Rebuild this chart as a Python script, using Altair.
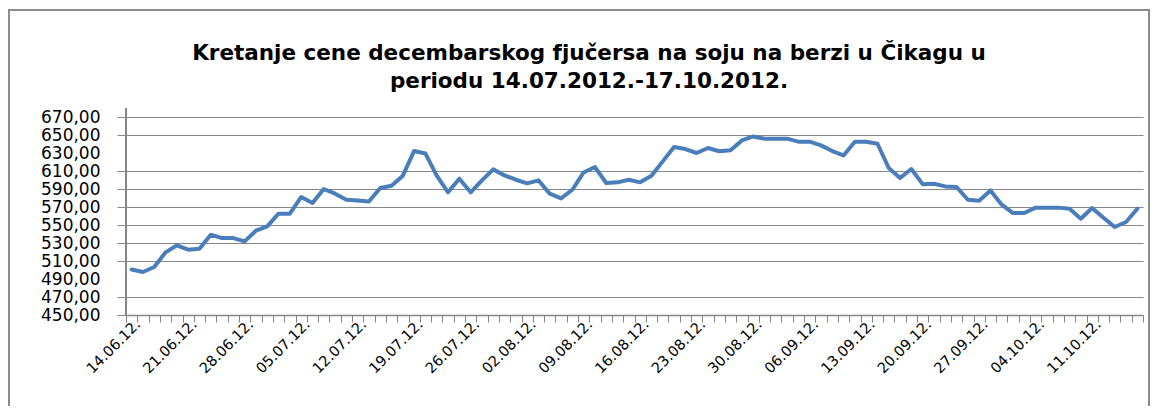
import altair as alt
import pandas as pd

# ---- data ----
title_lines = [
    "Kretanje cene decembarskog fjučersa na soju na berzi u Čikagu u",
    "periodu 14.07.2012.-17.10.2012.",
]
date_labels = [
    "14.06.12.", "21.06.12.", "28.06.12.", "05.07.12.", "12.07.12.", "19.07.12.",
    "26.07.12.", "02.08.12.", "09.08.12.", "16.08.12.", "23.08.12.", "30.08.12.",
    "06.09.12.", "13.09.12.", "20.09.12.", "27.09.12.", "04.10.12.", "11.10.12.",
]
prices = [
    500.5, 497.8, 503.3, 519.6, 527.4, 522.6, 523.7, 539.2, 535.5, 535.5,
    531.8, 543.7, 548.5, 562.6, 562.6, 581.1, 574.4, 590.0, 584.8, 578.1,
    577.3, 576.2, 591.1, 593.7, 604.8, 632.3, 629.4, 604.8, 586.3, 601.4,
    586.3, 599.6, 611.8, 605.1, 600.3, 596.3, 599.6, 584.8, 579.6, 589.2,
    608.4, 614.4, 596.7, 597.4, 600.3, 597.4, 604.8, 620.7, 636.7, 634.4,
    630.0, 635.6, 631.9, 633.0, 644.0, 648.4, 645.9, 645.9, 645.9, 642.6,
    642.6, 638.5, 632.2, 627.3, 642.6, 642.6, 640.3, 613.3, 602.2, 612.2,
    595.4, 595.9, 592.9, 592.2, 578.1, 577.0, 588.4, 572.6, 563.3, 563.3,
    569.3, 569.3, 569.3, 568.1, 557.0, 568.9, 558.1, 547.8, 553.3, 568.1,
]
y_ticks = list(range(450, 671, 20))
label_step = 5

n = len(prices)
df = pd.DataFrame({"pos": [i + 0.5 for i in range(n)], "price": prices})
one = pd.DataFrame({"a": [0]})

W, H = 1017, 198
GRAY = "#868686"
label_js = "[" + ",".join("'" + s + "'" for s in date_labels) + "]"

x_axis = alt.Axis(
    values=list(range(0, n + 1)),
    labelExpr=(
        f"datum.value % {label_step} == 0 && datum.value / {label_step} < {len(date_labels)}"
        f" ? {label_js}[datum.value / {label_step}] : ''"
    ),
    labelAngle=-45,
    labelAlign="right",
    labelBaseline="middle",
    labelOffset=12,
    labelPadding=0,
    labelOverlap=False,
    labelFlush=False,
    labelFont="DejaVu Sans",
    labelFontSize=14.5,
    labelColor="black",
    tickSize=7,
    tickColor=GRAY,
    domainColor=GRAY,
    domainWidth=1.5,
    grid=False,
    title=None,
)

y_axis = alt.Axis(
    values=y_ticks,
    labelExpr="replace(format(datum.value, '.2f'), '.', ',')",
    labelFont="DejaVu Sans",
    labelFontSize=17,
    labelColor="black",
    labelPadding=17,
    labelOverlap=False,
    labelFlush=False,
    tickSize=9,
    tickColor=GRAY,
    gridColor=GRAY,
    gridOpacity={"condition": {"test": "datum.value == 630 || datum.value == 490", "value": 0}, "value": 1},
    tickOpacity={"condition": {"test": "datum.value == 630 || datum.value == 490", "value": 0}, "value": 1},
    domain=False,
    title=None,
)

line = alt.Chart(df).mark_line(
    color="#4a7ebb", strokeWidth=4, strokeJoin="round", strokeCap="round"
).encode(
    x=alt.X("pos:Q", scale=alt.Scale(domain=[0, n], nice=False, zero=False), axis=x_axis),
    y=alt.Y("price:Q", scale=alt.Scale(domain=[450, 670], nice=False, zero=False), axis=y_axis),
)

y_domain = alt.Chart(one).mark_rule(color=GRAY, strokeWidth=2).encode(
    x=alt.value(0), y=alt.value(-9), y2=alt.value(H)
)

title = alt.Chart(one).mark_text(
    font="DejaVu Sans", fontSize=21.5, fontWeight="bold", color="black",
    align="center", baseline="alphabetic", lineBreak="\n", lineHeight=28,
).encode(
    x=alt.value(463), y=alt.value(-57), text=alt.value("\n".join(title_lines))
)

frame = alt.Chart(one).mark_rect(
    fillOpacity=0, stroke="#8c8c8c", strokeWidth=2
).encode(
    x=alt.value(-117), x2=alt.value(W + 6), y=alt.value(-107), y2=alt.value(H + 120)
)

chart = alt.layer(frame, line, y_domain, title).properties(
    width=W,
    height=H,
    padding={"left": 118, "top": 109, "right": 7, "bottom": 91},
    autosize=alt.AutoSizeParams(type="none"),
    background="white",
).configure_view(strokeWidth=0)

chart.save("out.html", embed_options={"renderer": "svg", "actions": False})
